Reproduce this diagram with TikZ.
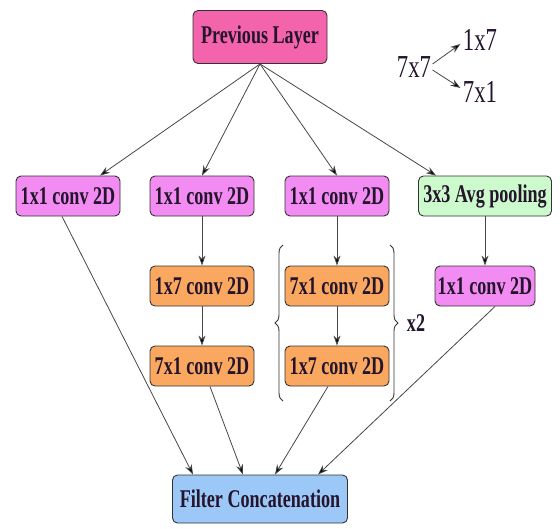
\documentclass[tikz,border=0pt]{standalone}
\usepackage{xcolor}
\usepackage{fontspec}
\setmainfont[FakeStretch=0.71]{Liberation Serif}
\usepackage{tikz}
\usetikzlibrary{arrows.meta,calc,decorations.pathreplacing}

\definecolor{prevpink}{RGB}{244,100,172}
\definecolor{convviolet}{RGB}{242,140,242}
\definecolor{convorange}{RGB}{250,168,96}
\definecolor{poolgreen}{RGB}{204,250,204}
\definecolor{concatblue}{RGB}{156,200,248}
\definecolor{textdark}{RGB}{36,20,44}
\definecolor{linegray}{RGB}{70,70,70}

\tikzset{
  layerbox/.style={draw=black!80, line width=0.9pt, rounded corners=5pt, inner sep=0pt,
    font=\fontsize{25.5}{28}\selectfont\bfseries, text=textdark},
  convbox/.style={layerbox, fill=convviolet, minimum width=104pt, minimum height=40pt},
  factbox/.style={layerbox, fill=convorange, minimum width=104pt, minimum height=40pt},
  flow/.style={draw=linegray, line width=0.8pt, -{Stealth[length=10pt,width=7pt,fill=black]}},
  repbrace/.style={line width=0.9pt, black!80, decoration={brace, amplitude=8pt}, decorate},
}

\begin{document}
\begin{tikzpicture}[x=1pt,y=-1pt]
\useasboundingbox (0,0) rectangle (560,528);
% input and output
\node[layerbox, fill=prevpink, minimum width=134pt, minimum height=53pt] (prev) at (260,37) {Previous Layer};
\node[layerbox, fill=concatblue, minimum width=175pt, minimum height=48pt] (concat) at (260,499) {Filter Concatenation};
% first row
\node[convbox] (b1) at (68,196) {1x1 conv 2D};
\node[convbox] (b2) at (202,196) {1x1 conv 2D};
\node[convbox] (b3) at (337,196) {1x1 conv 2D};
\node[layerbox, fill=poolgreen, minimum width=133pt, minimum height=40pt] (b4) at (485,196) {3x3 Avg pooling};
% factorized convs
\node[factbox] (b2a) at (202,286) {1x7 conv 2D};
\node[factbox] (b2b) at (202,366) {7x1 conv 2D};
\node[factbox] (b3a) at (337,286) {7x1 conv 2D};
\node[factbox] (b3b) at (337,366) {1x7 conv 2D};
\node[convbox, minimum width=100pt] (b4a) at (485,286) {1x1 conv 2D};
% repeat brackets
\draw[repbrace] (283,401) -- (283,245);
\draw[repbrace] (390,245) -- (390,401);
\node[font=\fontsize{25.5}{28}\selectfont\bfseries, text=textdark] (rep) at (416,323) {x2};
% legend
\node[font=\fontsize{32}{34}\selectfont, text=textdark] (k77) at (414,67) {7x7};
\node[font=\fontsize{32}{34}\selectfont, text=textdark] (k17) at (480,40) {1x7};
\node[font=\fontsize{32}{34}\selectfont, text=textdark] (k71) at (480,92) {7x1};
\draw[flow] ($(k77.east)+(-2,-3)$) -- ($(k17.west)+(1,4)$);
\draw[flow] ($(k77.east)+(-2,3)$) -- ($(k71.west)+(1,-4)$);

% split
\draw[flow] (prev.south) -- ($(b1.north)+(32,0)$);
\draw[flow] (prev.south) -- (b2.north);
\draw[flow] (prev.south) -- (b3.north);
\draw[flow] (prev.south) -- ($(b4.north west)+(18,0)$);
% columns
\draw[flow] (b2) -- (b2a);
\draw[flow] (b2a) -- (b2b);
\draw[flow] (b3) -- (b3a);
\draw[flow] (b3a) -- (b3b);
\draw[flow] (b4) -- (b4a);
% merge
\draw[flow] ($(b1.south)+(-6,0)$) -- ($(concat.north)+(-67,0)$);
\draw[flow] ($(b2b.south)+(8,0)$) -- ($(concat.north)+(-17,0)$);
\draw[flow] ($(b3b.south)+(-9,0)$) -- ($(concat.north)+(15,0)$);
\draw[flow] ($(b4a.south)+(10,0)$) -- ($(concat.north)+(58,0)$);
\end{tikzpicture}
\end{document}
